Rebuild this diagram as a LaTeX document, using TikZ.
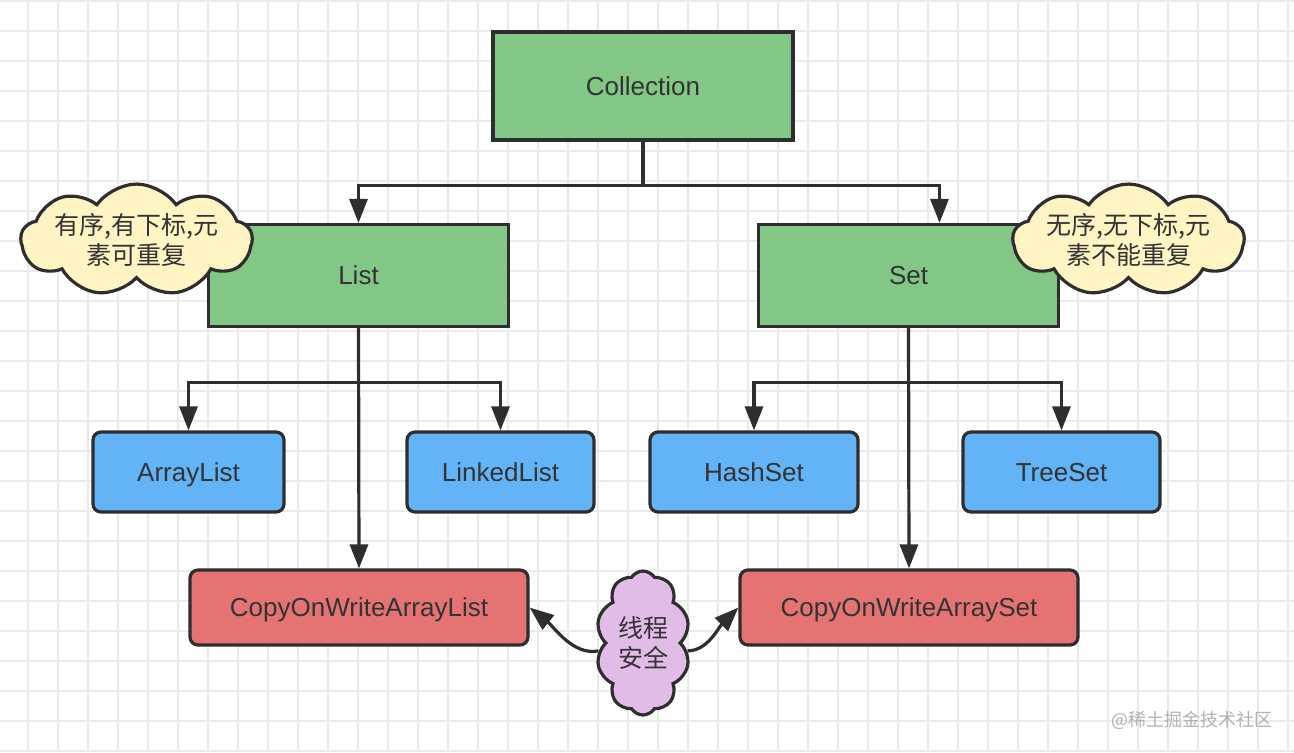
\documentclass[tikz,border=0pt]{standalone}
\usepackage{fontspec}
\setmainfont{Liberation Sans}
\newfontfamily\cjk{Noto Sans CJK SC}
\usetikzlibrary{shapes.symbols,positioning,arrows.meta}
\definecolor{cline}{HTML}{2E2E2E}
\definecolor{ctext}{HTML}{333333}
\definecolor{cgrid}{HTML}{EAEAEA}
\definecolor{cgreen}{HTML}{82C785}
\definecolor{cblue}{HTML}{62B4F6}
\definecolor{cred}{HTML}{E57373}
\definecolor{cyellow}{HTML}{FFF4C4}
\definecolor{cpurple}{HTML}{E1BCE6}
\tikzset{
  box/.style={draw=cline, line width=1.6pt, text=ctext, text height=9.3pt, text depth=0pt,
    font=\fontsize{13}{16}\selectfont},
  greenbox/.style={box, fill=cgreen, minimum width=150pt, minimum height=51pt},
  bluebox/.style={box, fill=cblue, rounded corners=4pt, minimum height=40pt},
  redbox/.style={box, fill=cred, rounded corners=4pt, minimum width=169pt, minimum height=37.5pt},
  note/.style={cloud, cloud ignores aspect, draw=cline, line width=1.6pt, inner sep=0pt,
    align=center, text=ctext, font=\cjk\fontsize{12.5}{15}\selectfont},
  link/.style={draw=cline, line width=1.6pt, -{Triangle[length=12pt,width=9pt]}},
}
\begin{document}
\begin{tikzpicture}[x=0.5pt, y=-0.5pt]
\useasboundingbox (0,0) rectangle (1294,752);
\fill[white] (0,0) rectangle (1294,752);
% background grid
\foreach \gx in {28,58,...,1288} \draw[cgrid, line width=1pt] (\gx,0) -- (\gx,752);
\foreach \gy in {1,31,...,751} \draw[cgrid, line width=1pt] (0,\gy) -- (1294,\gy);

\node (coll) at (643,86) [greenbox, minimum height=54pt] {Collection};
\node (list) at (358.5,275.5) [greenbox] {List};
\node (set) at (908.5,275.5) [greenbox] {Set};

\node (arraylist) at (188.5,472) [bluebox, minimum width=95.5pt] {ArrayList};
\node (linkedlist) at (500.5,472) [bluebox, minimum width=93.5pt] {LinkedList};
\node (hashset) at (754,472) [bluebox, minimum width=104pt] {HashSet};
\node (treeset) at (1061.5,472) [bluebox, minimum width=98.5pt] {TreeSet};

\node (cowlist) at (359,607.5) [redbox] {CopyOnWriteArrayList};
\node (cowset) at (909,607.5) [redbox] {CopyOnWriteArraySet};

\node (list_note) at (136.5,240) [note, fill=cyellow, cloud puffs=9, cloud puff arc=110, minimum width=103pt, minimum height=48pt] {有序,有下标,元\\素可重复};
\node (set_note) at (1128.5,240) [note, fill=cyellow, cloud puffs=9, cloud puff arc=110, minimum width=103pt, minimum height=48pt] {无序,无下标,元\\素不能重复};
\node (safe_note) at (643,643) [note, fill=cpurple, cloud puffs=10, cloud puff arc=115, minimum width=47pt, minimum height=72pt] {线程\\安全};

\draw [link] (coll.south) -- ++(0,44) -| (list.north);
\draw [link] (coll.south) -- ++(0,44) -| ([xshift=15.5pt]set.north);

\draw [link] (list.south) -- ++(0,54) -| (arraylist.north);
\draw [link] (list.south) -- ++(0,54) -| (linkedlist.north);
\draw [link] (list.south) -- (cowlist.north);

\draw [link] (set.south) -- ++(0,54) -| (hashset.north);
\draw [link] (set.south) -- ++(0,54) -| (treeset.north);
\draw [link] (set.south) -- (cowset.north);

\draw [link] (safe_note.190) .. controls +(-25,5) and +(25,20) .. (cowlist.east);
\draw [link] (safe_note.-10) .. controls +(20,0) and +(-20,20) .. (cowset.west);

\node (mark) at (1192,720) [font=\cjk\fontsize{9}{11}\selectfont, text=black!30] {@稀土掘金技术社区};
\end{tikzpicture}
\end{document}
